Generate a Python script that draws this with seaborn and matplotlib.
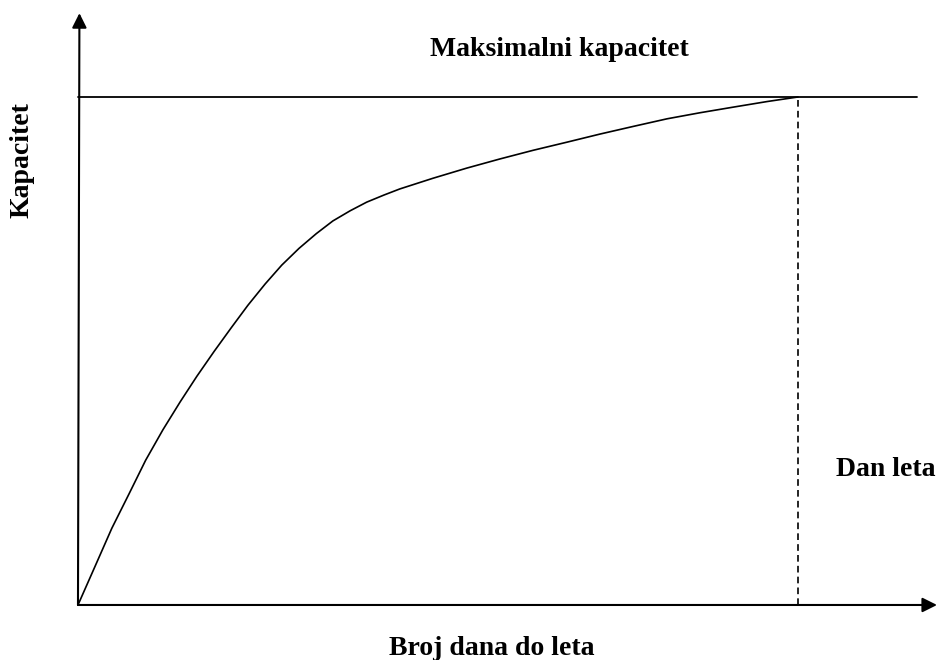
import numpy as np
import pandas as pd
import seaborn as sns
import matplotlib.pyplot as plt

# capacity curve (day of flight = 100, max capacity = 100)
days = [0, 2.4, 4.7, 7.1, 9.4, 11.8, 14.2, 16.5, 18.9, 21.3, 23.6, 26.0, 28.3,
        30.7, 33.1, 35.4, 37.8, 40.1, 42.5, 44.7, 49.3, 54.0, 58.6, 63.2, 67.9,
        72.5, 77.1, 81.8, 86.4, 91.0, 95.7, 100]
capacity = [0, 7.7, 15.1, 21.9, 28.5, 34.5, 40.0, 45.0, 49.9, 54.6, 59.0, 63.2,
            66.9, 70.2, 73.1, 75.6, 77.6, 79.3, 80.7, 81.9, 84.0, 86.0, 87.8,
            89.5, 91.1, 92.7, 94.2, 95.7, 96.9, 98.0, 99.1, 100]
max_capacity = 100
flight_day = 100

title_text = "Maksimalni kapacitet"
x_label = "Broj dana do leta"
y_label = "Kapacitet"
day_label = "Dan leta"

sns.set_theme(style="white")
plt.rcParams['font.family'] = ['Liberation Serif', 'DejaVu Serif']

fig = plt.figure(figsize=(9.38, 6.6), dpi=100)
ax = fig.add_axes([0, 0, 1, 1])
ax.set_xlim(-10.83, 119.44)
ax.set_ylim(-10.83, 119.09)
ax.axis('off')

df = pd.DataFrame({"dani": days, "kapacitet": capacity})
sns.lineplot(data=df, x="dani", y="kapacitet", color="black", lw=1.2, ax=ax)

# axes with arrow heads
arrow = dict(arrowstyle="-|>", color="black", lw=1.5, mutation_scale=22,
             shrinkA=0, shrinkB=0)
ax.annotate("", xy=(119.3, 0), xytext=(0, 0), arrowprops=arrow)
ax.annotate("", xy=(0.2, 116.5), xytext=(0, 0), arrowprops=arrow)

# max capacity line and day-of-flight marker
ax.plot([0, 116.5], [max_capacity, max_capacity], color="black", lw=1.3)
ax.plot([flight_day, flight_day], [0, max_capacity], color="black", lw=1.2,
        linestyle=(0, (4, 2.5)))

fs = 20
txt = dict(ha="center", va="center", fontsize=fs, fontweight="bold", color="black")
ax.text(66.9, 109.3, title_text, **txt)
ax.text(112.2, 26.6, day_label, **txt)
ax.text(57.5, -8.5, x_label, **txt)
ax.text(-7.8, 87.6, y_label, rotation=90, **txt)

fig.savefig("out.png", dpi=100, facecolor="white")
